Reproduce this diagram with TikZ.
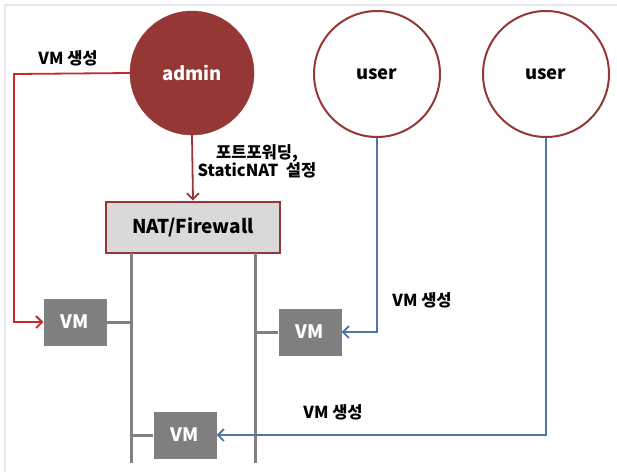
\documentclass[tikz,border=0pt]{standalone}
\usepackage{fontspec}
\setmainfont{Noto Sans CJK KR}
\usetikzlibrary{arrows.meta}
\definecolor{dred}{HTML}{953735}
\definecolor{bred}{HTML}{C8282A}
\definecolor{vmgray}{HTML}{7F7F7F}
\definecolor{natgray}{HTML}{D9D9D9}
\definecolor{lblue}{HTML}{4F76AC}
\definecolor{frame}{HTML}{E4E8EE}
\tikzset{
  admincircle/.style={circle, minimum size=124pt, fill=dred, draw=dred, text=white, font=\fontsize{18.5}{20}\selectfont\bfseries, inner sep=0pt},
  usercircle/.style={circle, minimum size=126pt, draw=dred, line width=2pt, fill=white, text=black, font=\fontsize{18.5}{20}\selectfont\bfseries, inner sep=0pt},
  natbox/.style={rectangle, minimum width=174pt, minimum height=51pt, fill=natgray, draw=dred, line width=2pt, font=\fontsize{19}{20}\selectfont\bfseries, inner sep=0pt},
  vmbox/.style={rectangle, minimum width=63pt, minimum height=47pt, fill=vmgray, text=white, font=\fontsize{18.5}{20}\selectfont\bfseries, inner sep=0pt},
  lbl/.style={font=\fontsize{16.5}{18}\selectfont\bfseries, align=center, inner sep=0pt},
  redarrow/.style={draw=dred, line width=1.8pt, -{Straight Barb[length=6pt,width=12pt]}},
  bredarrow/.style={draw=bred, line width=1.8pt, -{Straight Barb[length=6pt,width=12pt]}},
  bluearrow/.style={draw=lblue, line width=1.8pt, -{Straight Barb[length=6pt,width=12pt]}},
  busline/.style={draw=vmgray, line width=3pt},
}
\begin{document}
\begin{tikzpicture}[x=1pt,y=-1pt]
\useasboundingbox (0,0) rectangle (617,472);
\fill[white] (0,0) rectangle (617,472);
\draw[frame, line width=1.2pt] (5,472) -- (5,5) -- (617,5);

\node[admincircle] (admin) at (192,73) {admin};
\node[usercircle] (user1) at (377,74) {user};
\node[usercircle] (user2) at (546,74) {user};
\node[natbox] (nat) at (193,227) {NAT/Firewall};
\node[vmbox] (vm1) at (75,322) {VM};
\node[vmbox] (vm2) at (310,332) {VM};
\node[vmbox] (vm3) at (185,435) {VM};

\coordinate (b1t) at (131,253);
\coordinate (b1b) at (131,463);
\coordinate (b2t) at (255,253);
\coordinate (b2b) at (255,463);
\coordinate (rc) at (14,74);

\draw[busline] (b1t) -- (b1b);
\draw[busline] (b2t) -- (b2b);
\draw[busline] (vm1.east) -- (vm1.east -| b1t);
\draw[busline] (vm2.west) -- (vm2.west -| b2t);
\draw[busline] (vm3.west) -- (vm3.west -| b1t);

\draw[bredarrow] (admin.west) -- (rc) |- (vm1.west);
\draw[redarrow] (admin.south) -- (nat.north);
\draw[bluearrow] (user1.south) |- (vm2.east);
\draw[bluearrow] (user2.south) |- (vm3.east);

\node[lbl] (l1) at (68,58) {VM 생성};
\node[lbl] (l2) at (257,161) {포트포워딩,\\StaticNAT\ \ 설정};
\node[lbl] (l3) at (422,300) {VM 생성};
\node[lbl] (l4) at (333,412) {VM 생성};
\end{tikzpicture}
\end{document}
